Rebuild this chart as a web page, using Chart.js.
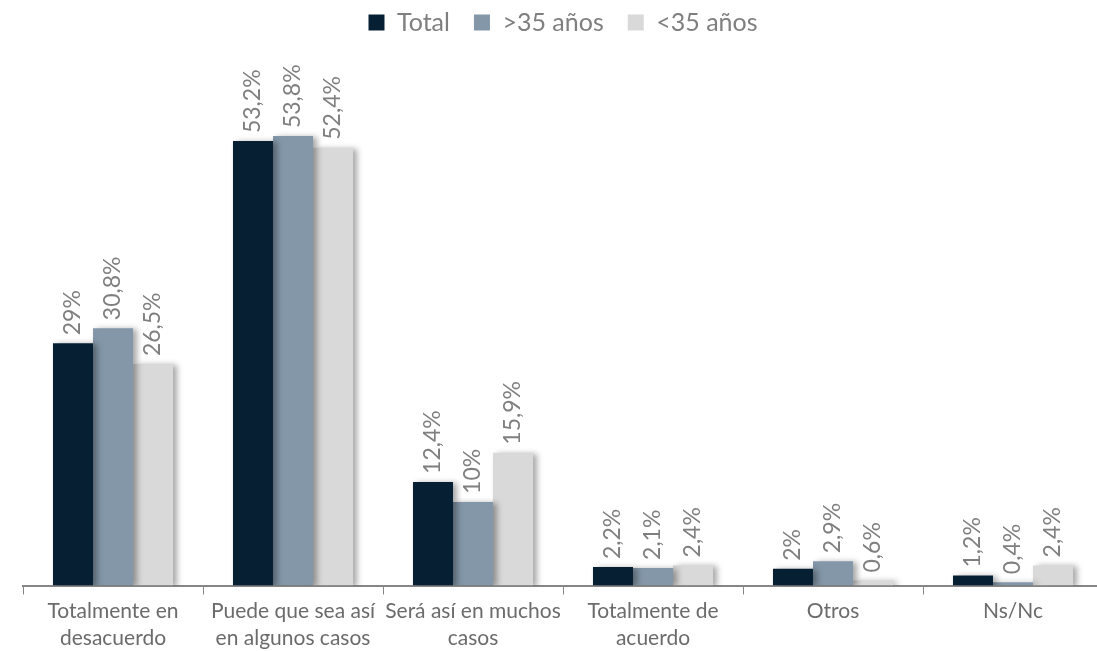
<!DOCTYPE html>
<html lang="es">
<head>
  <meta charset="UTF-8">
  <title>Opinión por edad</title>
  <script src="https://cdn.jsdelivr.net/npm/chart.js"></script>
  <style>
    html, body { margin: 0; padding: 0; background: #fff; overflow: hidden; }
    .wrap { width: 1136px; height: 651px; }
  </style>
</head>
<body>
  <div class="wrap"><canvas id="grafico"></canvas></div>

  <script>
    const categorias = [
      ['Totalmente en', 'desacuerdo'],
      ['Puede que sea así', 'en algunos casos'],
      ['Será así en muchos', 'casos'],
      ['Totalmente de', 'acuerdo'],
      'Otros',
      'Ns/Nc'
    ];
    const total     = [29, 53.2, 12.4, 2.2, 2, 1.2];
    const mayores35 = [30.8, 53.8, 10, 2.1, 2.9, 0.4];
    const menores35 = [26.5, 52.4, 15.9, 2.4, 0.6, 2.4];

    const fuente = 'Lato, "Open Sans", sans-serif';
    const gris = '#7f7f7f';

    function formato(v) {
      return String(v).replace('.', ',') + '%';
    }

    // sombra suave a la derecha de cada barra
    const sombra = {
      id: 'sombra',
      beforeDatasetDraw(chart) {
        const ctx = chart.ctx;
        ctx.save();
        ctx.shadowColor = 'rgba(0,0,0,0.35)';
        ctx.shadowBlur = 6;
        ctx.shadowOffsetX = 4;
        ctx.shadowOffsetY = 1;
      },
      afterDatasetDraw(chart) {
        chart.ctx.restore();
      }
    };

    // etiquetas giradas encima de cada barra
    const etiquetas = {
      id: 'etiquetas',
      afterDatasetsDraw(chart) {
        const ctx = chart.ctx;
        ctx.save();
        ctx.font = '23px ' + fuente;
        ctx.fillStyle = gris;
        ctx.textAlign = 'left';
        ctx.textBaseline = 'middle';
        chart.data.datasets.forEach((ds, i) => {
          chart.getDatasetMeta(i).data.forEach((bar, j) => {
            ctx.save();
            ctx.translate(bar.x, bar.y - 8);
            ctx.rotate(-Math.PI / 2);
            ctx.fillText(formato(ds.data[j]), 0, 0);
            ctx.restore();
          });
        });
        ctx.restore();
      }
    };

    new Chart(document.getElementById('grafico'), {
      type: 'bar',
      data: {
        labels: categorias,
        datasets: [
          { label: 'Total', data: total, backgroundColor: '#061f33' },
          { label: '>35 años', data: mayores35, backgroundColor: '#8497a8' },
          { label: '<35 años', data: menores35, backgroundColor: '#d9d9d9' }
        ]
      },
      options: {
        responsive: true,
        maintainAspectRatio: false,
        animation: false,
        datasets: {
          bar: { barPercentage: 1, categoryPercentage: 0.667 }
        },
        layout: { padding: { left: 23, right: 33, top: -14, bottom: -4 } },
        plugins: {
          legend: {
            position: 'top',
            labels: {
              color: gris,
              font: { family: fuente, size: 25 },
              boxWidth: 16,
              boxHeight: 16,
              padding: 24
            }
          },
          tooltip: { enabled: false }
        },
        scales: {
          x: {
            grid: {
              offset: true,
              drawOnChartArea: false,
              tickLength: 9,
              color: '#868686'
            },
            border: { color: '#868686', width: 2 },
            ticks: {
              color: '#6b6b6b',
              font: { family: fuente, size: 21, lineHeight: 1.25 },
              maxRotation: 0,
              padding: 4
            }
          },
          y: {
            display: false,
            min: 0,
            max: 64.7
          }
        }
      },
      plugins: [sombra, etiquetas]
    });
  </script>
</body>
</html>
